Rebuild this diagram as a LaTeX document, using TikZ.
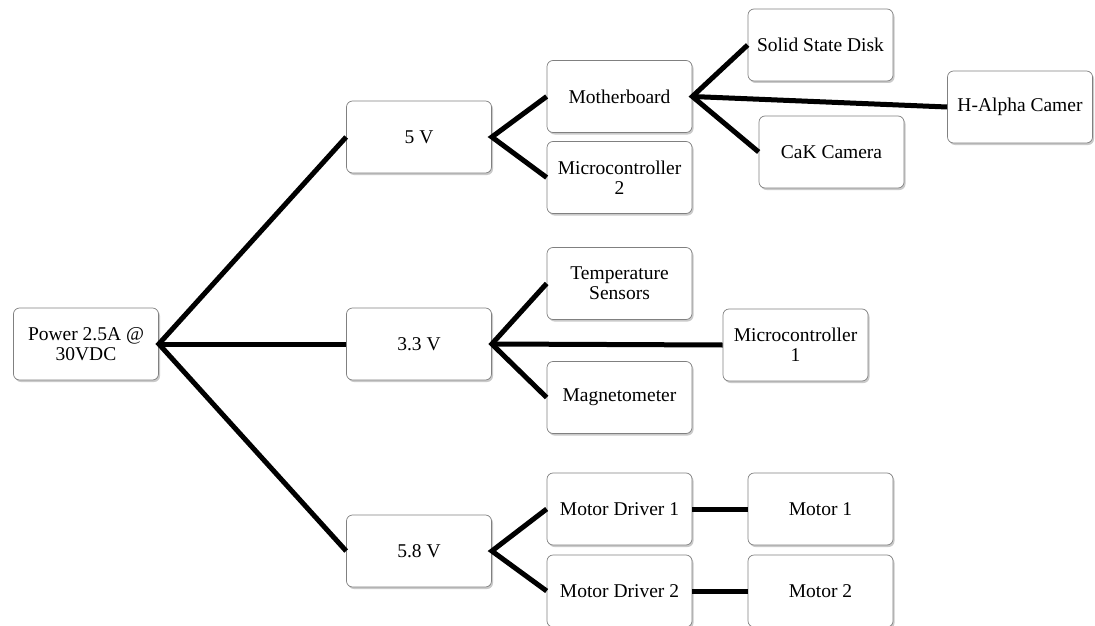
\documentclass[tikz,border=0pt]{standalone}
\usepackage{fontspec}
\setmainfont{Liberation Serif}
\usetikzlibrary{shadows}
\tikzset{
  box/.style={draw=black!50, line width=0.7pt, rounded corners=6pt, fill=white,
    minimum width=145pt, minimum height=72pt, align=center, inner sep=2pt,
    font=\fontsize{19.5}{20}\selectfont,
    drop shadow={shadow xshift=1.5pt, shadow yshift=-2pt, opacity=0.35, fill=black!60}},
  wire/.style={line width=5pt, black, line join=miter}
}
\begin{document}
\begin{tikzpicture}[x=1pt,y=1pt]
\useasboundingbox (0,0) rectangle (1095,-626);
\node[box] (p) at (86,-344) {Power 2.5A @\\30VDC};
\node[box] (v5) at (419,-137) {5 V};
\node[box] (v33) at (419,-344) {3.3 V};
\node[box] (v58) at (419,-551) {5.8 V};
\node[box] (mb) at (619.5,-96.5) {Motherboard};
\node[box] (mc2) at (619.5,-177.5) {Microcontroller\\2};
\node[box] (ssd) at (820.5,-45) {Solid State Disk};
\node[box] (ha) at (1020,-107) {H-Alpha Camer};
\node[box] (cak) at (831.5,-152) {CaK Camera};
\node[box] (ts) at (619.5,-283.5) {Temperature\\Sensors};
\node[box] (mc1) at (795.5,-345) {Microcontroller\\1};
\node[box] (mag) at (619.5,-397.5) {Magnetometer};
\node[box] (md1) at (619.5,-509) {Motor Driver 1};
\node[box] (md2) at (619.5,-591) {Motor Driver 2};
\node[box] (m1) at (820.5,-509) {Motor 1};
\node[box] (m2) at (820.5,-591) {Motor 2};
\draw[wire] (v5.west) -- (p.east) -- (v58.west);
\draw[wire] (p.east) -- (v33.west);
\draw[wire] (mb.west) -- (v5.east) -- (mc2.west);
\draw[wire] (ssd.west) -- (mb.east) -- (cak.west);
\draw[wire] (mb.east) -- (ha.west);
\draw[wire] (ts.west) -- (v33.east) -- (mag.west);
\draw[wire] (v33.east) -- (mc1.west);
\draw[wire] (md1.west) -- (v58.east) -- (md2.west);
\draw[wire] (md1.east) -- (m1.west);
\draw[wire] (md2.east) -- (m2.west);
\end{tikzpicture}
\end{document}
